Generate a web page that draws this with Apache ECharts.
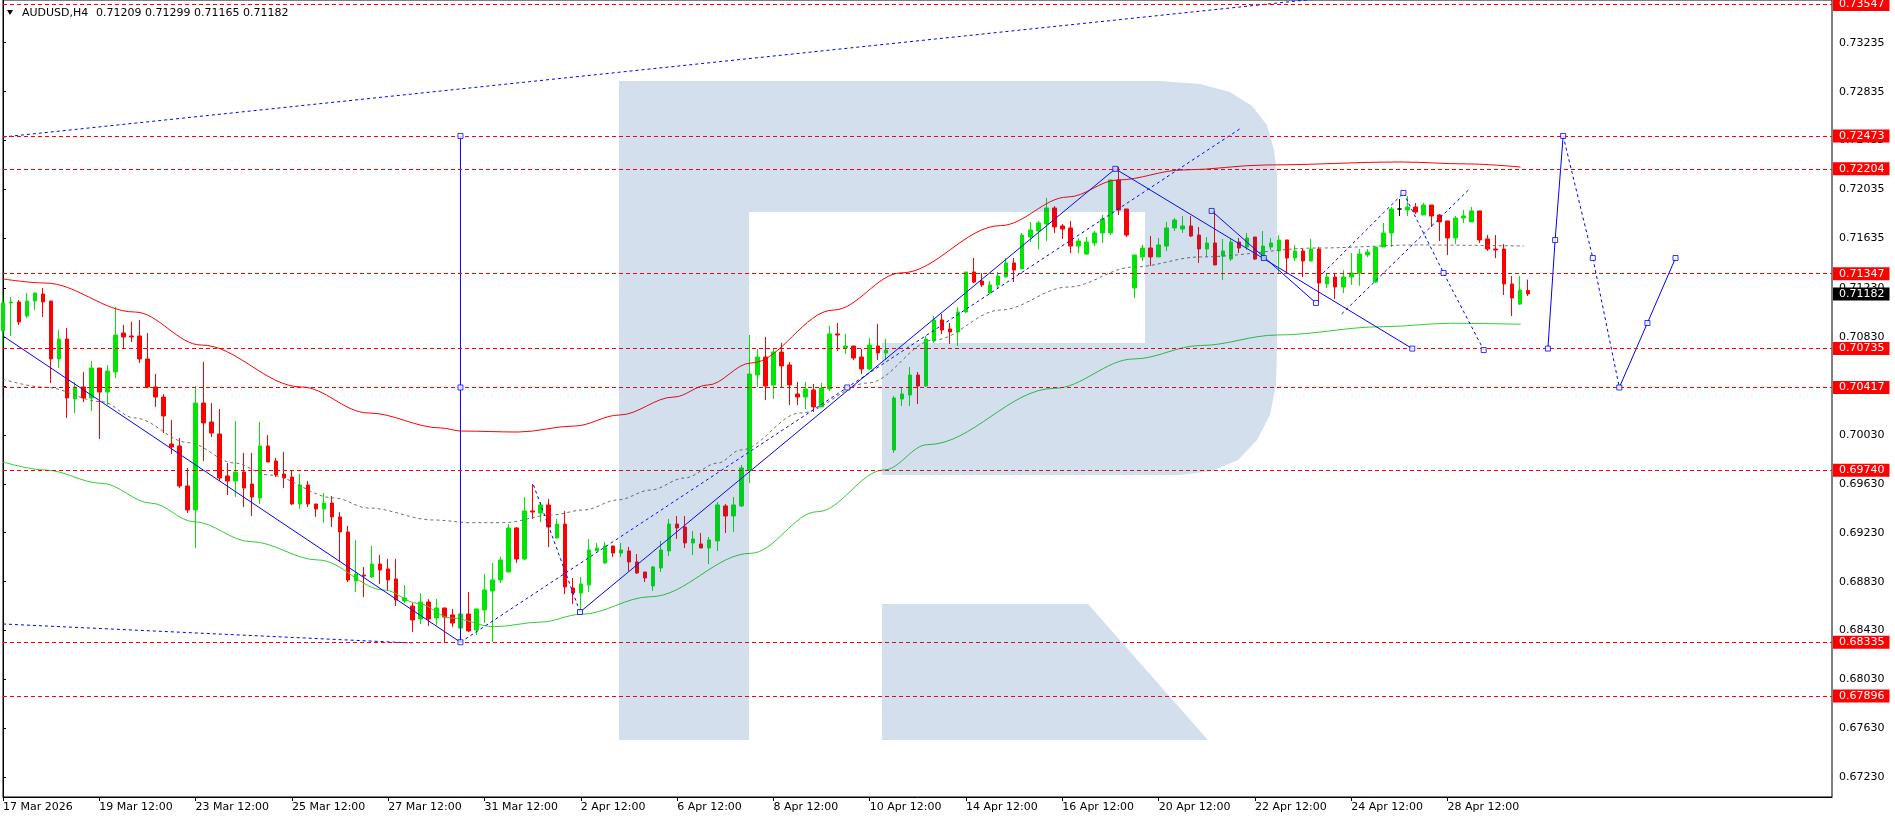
<!DOCTYPE html>
<html><head><meta charset="utf-8">
<script src="https://cdn.jsdelivr.net/npm/echarts@6/dist/echarts.min.js"></script>
<style>html,body{margin:0;padding:0;background:#fff}#c{width:1895px;height:820px}</style>
</head><body><div id="c"></div>
<script>
const symbolName = 'AUDUSD,H4';
const xLabels = ['17 Mar 2026','19 Mar 12:00','23 Mar 12:00','25 Mar 12:00','27 Mar 12:00','31 Mar 12:00','2 Apr 12:00','6 Apr 12:00','8 Apr 12:00','10 Apr 12:00','14 Apr 12:00','16 Apr 12:00','20 Apr 12:00','22 Apr 12:00','24 Apr 12:00','28 Apr 12:00'];
const xLabelStep = 12;
const yTicks = [0.67230,0.67630,0.68030,0.68430,0.68830,0.69230,0.69630,0.70030,0.70430,0.70830,0.71230,0.71635,0.72035,0.72435,0.72835,0.73235];
const levelValues = [0.73547,0.72473,0.72204,0.71347,0.70735,0.70417,0.69740,0.68335,0.67896];

const opens = [
0.70879,0.71108,0.71116,0.71001,0.71124,0.71181,0.71124,0.70650,0.70813,0.70323,
0.70421,0.70331,0.70576,0.70380,0.70544,0.70862,0.70838,0.70838,0.70650,0.70421,
0.70339,0.69955,0.69939,0.69612,0.69416,0.70290,0.70135,0.70037,0.69694,0.69653,
0.69726,0.69628,0.69514,0.69939,0.69816,0.69710,0.69685,0.69465,0.69620,0.69465,
0.69424,0.69473,0.69359,0.69236,0.68836,0.68884,0.68868,0.68974,0.68934,0.68852,
0.68672,0.68631,0.68525,0.68664,0.68533,0.68615,0.68558,0.68451,0.68566,0.68435,
0.68599,0.68754,0.68844,0.68909,0.69269,0.69015,0.69408,0.69391,0.69457,0.69187,
0.69301,0.68778,0.68737,0.68803,0.69081,0.68983,0.69122,0.69064,0.69081,0.68991,
0.68909,0.68795,0.68942,0.69081,0.69301,0.69277,0.69146,0.69138,0.69105,0.69163,
0.69449,0.69367,0.69449,0.69743,0.70519,0.70666,0.70437,0.70707,0.70601,0.70364,
0.70339,0.70397,0.70258,0.70405,0.70855,0.70740,0.70756,0.70666,0.70568,0.70756,
0.70699,0.69906,0.70323,0.70356,0.70519,0.70429,0.70797,0.70969,0.70895,0.70871,
0.71034,0.71361,0.71287,0.71189,0.71255,0.71320,0.71435,0.71386,0.71647,0.71696,
0.71753,0.71884,0.71737,0.71721,0.71573,0.71508,0.71598,0.71680,0.71680,0.72113,
0.71876,0.71230,0.71484,0.71557,0.71484,0.71573,0.71721,0.71712,0.71737,0.71663,
0.71549,0.71598,0.71492,0.71467,0.71606,0.71565,0.71647,0.71459,0.71565,0.71533,
0.71623,0.71475,0.71533,0.71451,0.71549,0.71263,0.71320,0.71238,0.71320,0.71353,
0.71500,0.71279,0.71565,0.71680,0.71876,0.71868,0.71892,0.71827,0.71908,0.71827,
0.71778,0.71639,0.71802,0.71770,0.71860,0.71631,0.71549,0.71549,0.71263,0.71099,
0.71209];
const closes = [
0.71108,0.71116,0.70952,0.71124,0.71189,0.71116,0.70650,0.70813,0.70331,0.70421,
0.70331,0.70576,0.70380,0.70552,0.70846,0.70830,0.70830,0.70650,0.70421,0.70339,
0.70184,0.69931,0.69612,0.69416,0.70290,0.70127,0.70045,0.69677,0.69653,0.69726,
0.69596,0.69522,0.69939,0.69808,0.69702,0.69677,0.69465,0.69620,0.69465,0.69424,
0.69473,0.69359,0.69236,0.68844,0.68893,0.68876,0.68974,0.68925,0.68844,0.68680,
0.68697,0.68517,0.68664,0.68525,0.68615,0.68541,0.68492,0.68566,0.68427,0.68607,
0.68762,0.68844,0.69007,0.69269,0.69015,0.69408,0.69399,0.69457,0.69277,0.69301,
0.68787,0.68737,0.68811,0.69089,0.69105,0.69122,0.69064,0.69089,0.68991,0.68901,
0.68860,0.68950,0.69089,0.69301,0.69269,0.69146,0.69179,0.69105,0.69171,0.69457,
0.69367,0.69457,0.69759,0.70527,0.70666,0.70429,0.70707,0.70593,0.70437,0.70339,
0.70405,0.70258,0.70413,0.70855,0.70846,0.70756,0.70658,0.70568,0.70764,0.70699,
0.70723,0.70331,0.70364,0.70519,0.70429,0.70813,0.70969,0.70887,0.70871,0.71034,
0.71361,0.71279,0.71255,0.71255,0.71328,0.71435,0.71377,0.71663,0.71704,0.71762,
0.71884,0.71729,0.71712,0.71573,0.71614,0.71606,0.71680,0.71794,0.72113,0.71868,
0.71663,0.71500,0.71557,0.71484,0.71582,0.71721,0.71786,0.71737,0.71655,0.71549,
0.71598,0.71418,0.71533,0.71606,0.71557,0.71639,0.71467,0.71573,0.71598,0.71623,
0.71475,0.71533,0.71451,0.71549,0.71271,0.71320,0.71238,0.71320,0.71353,0.71508,
0.71524,0.71565,0.71680,0.71876,0.71876,0.71892,0.71851,0.71908,0.71819,0.71770,
0.71639,0.71802,0.71819,0.71860,0.71623,0.71549,0.71541,0.71263,0.71149,0.71214,
0.71182];
const lows = [
0.70756,0.70838,0.70928,0.70985,0.71050,0.70993,0.70454,0.70577,0.70168,0.70209,
0.70298,0.70225,0.69996,0.70274,0.70495,0.70732,0.70789,0.70617,0.70413,0.70258,
0.70045,0.69873,0.69596,0.69391,0.69105,0.69816,0.70012,0.69653,0.69538,0.69522,
0.69440,0.69367,0.69465,0.69808,0.69685,0.69596,0.69457,0.69424,0.69440,0.69359,
0.69310,0.69277,0.68991,0.68827,0.68746,0.68705,0.68860,0.68811,0.68754,0.68631,
0.68656,0.68419,0.68484,0.68468,0.68476,0.68329,0.68460,0.68337,0.68419,0.68394,
0.68492,0.68337,0.68819,0.68909,0.68983,0.69007,0.69342,0.69318,0.69113,0.69187,
0.68729,0.68648,0.68582,0.68746,0.69081,0.68975,0.69032,0.69032,0.68917,0.68893,
0.68827,0.68754,0.68909,0.69040,0.69179,0.69105,0.69048,0.69105,0.68974,0.69081,
0.69228,0.69236,0.69440,0.69637,0.70421,0.70315,0.70323,0.70421,0.70274,0.70274,
0.70241,0.70217,0.70258,0.70389,0.70716,0.70691,0.70642,0.70527,0.70560,0.70642,
0.70642,0.69882,0.70266,0.70266,0.70282,0.70421,0.70781,0.70854,0.70773,0.70756,
0.71026,0.71271,0.71238,0.71181,0.71222,0.71320,0.71279,0.71386,0.71606,0.71549,
0.71614,0.71680,0.71631,0.71516,0.71516,0.71500,0.71573,0.71598,0.71663,0.71827,
0.71647,0.71149,0.71451,0.71410,0.71484,0.71533,0.71696,0.71680,0.71647,0.71435,
0.71484,0.71418,0.71296,0.71451,0.71516,0.71541,0.71459,0.71451,0.71541,0.71353,
0.71353,0.71451,0.71320,0.71451,0.71116,0.71230,0.71140,0.71189,0.71255,0.71247,
0.71484,0.71271,0.71565,0.71565,0.71819,0.71819,0.71835,0.71827,0.71729,0.71614,
0.71500,0.71590,0.71762,0.71770,0.71598,0.71533,0.71475,0.71173,0.71001,0.71091,
0.71165];
const highs = [
0.71189,0.71157,0.71132,0.71189,0.71192,0.71230,0.71124,0.70887,0.70903,0.70462,
0.70544,0.70634,0.70576,0.70601,0.71075,0.70928,0.70952,0.70969,0.70862,0.70527,
0.70364,0.70151,0.70004,0.69759,0.70429,0.70625,0.70290,0.70241,0.69800,0.70143,
0.69882,0.69882,0.70135,0.70029,0.69841,0.69890,0.69743,0.69710,0.69653,0.69465,
0.69555,0.69530,0.69399,0.69285,0.69171,0.68950,0.69122,0.69048,0.69016,0.69016,
0.68803,0.68656,0.68737,0.68688,0.68688,0.68615,0.68607,0.68566,0.68746,0.68607,
0.68893,0.68983,0.69032,0.69301,0.69277,0.69522,0.69628,0.69481,0.69506,0.69342,
0.69408,0.68860,0.68868,0.69179,0.69146,0.69155,0.69122,0.69146,0.69114,0.69056,
0.68909,0.68958,0.69163,0.69342,0.69367,0.69367,0.69244,0.69228,0.69195,0.69481,
0.69465,0.69522,0.69784,0.70846,0.70732,0.70830,0.70732,0.70781,0.70625,0.70462,
0.70462,0.70446,0.70454,0.70920,0.70944,0.70855,0.70756,0.70732,0.70822,0.70936,
0.70813,0.70348,0.70421,0.70584,0.70544,0.70838,0.71001,0.71018,0.70944,0.71075,
0.71361,0.71475,0.71353,0.71287,0.71361,0.71475,0.71475,0.71680,0.71770,0.71778,
0.71966,0.71900,0.71753,0.71778,0.71639,0.71647,0.71696,0.71827,0.72113,0.72219,
0.71876,0.71500,0.71582,0.71655,0.71639,0.71770,0.71802,0.71819,0.71819,0.71729,
0.71647,0.71860,0.71631,0.71631,0.71639,0.71680,0.71647,0.71696,0.71639,0.71663,
0.71623,0.71582,0.71557,0.71631,0.71565,0.71353,0.71353,0.71377,0.71516,0.71549,
0.71549,0.71565,0.71762,0.71892,0.71958,0.71982,0.71925,0.71925,0.71908,0.71835,
0.71778,0.71819,0.71868,0.71892,0.71860,0.71663,0.71663,0.71590,0.71328,0.71328,
0.71299];

// envelope lines (bar index, price) read at points along each curve
const upperX = [0,5.2,16.4,24.7,37.2,45.5,54.6,57.1,64.2,71.2,76.8,83.6,87.8,93.2,103.5,111.9,124.3,132.7,138.9,147.1,157.6,174.2,182.5,189.1];
const upperY = [0.71304,0.71271,0.71034,0.70764,0.70421,0.70209,0.70086,0.70061,0.70053,0.70102,0.70192,0.70339,0.70437,0.70617,0.71050,0.71353,0.71740,0.71974,0.72113,0.72195,0.72236,0.72260,0.72244,0.72219];
const middleX = [0,5.2,12.3,16.4,23.1,28.8,33.1,41.3,45.5,53.7,58.3,62.4,68.3,72.4,76.6,80.7,84.9,89.1,91.9,99.4,107.8,116,124.3,132.7,140.9,149.2,163.8,176.3,189.5];
const middleY = [0.70484,0.70419,0.70301,0.70168,0.69966,0.69800,0.69702,0.69514,0.69432,0.69334,0.69312,0.69312,0.69375,0.69416,0.69498,0.69579,0.69677,0.69800,0.69906,0.70209,0.70454,0.70805,0.71050,0.71238,0.71402,0.71484,0.71557,0.71582,0.71573];
const lowerX = [0,5.2,12.3,18.5,23.8,30.9,39.3,47.5,51.7,55.8,61.2,67.1,72.0,80.7,93.2,101.5,109.8,115.2,131,140.9,149.2,158.8,172,180.4,189.1];
const lowerY = [0.69808,0.69743,0.69634,0.69471,0.69320,0.69157,0.69007,0.68762,0.68653,0.68533,0.68462,0.68500,0.68563,0.68707,0.69062,0.69402,0.69743,0.69950,0.70410,0.70650,0.70760,0.70846,0.70914,0.70942,0.70934];

// drawn objects: [bar index, price]
const solidLines = [
  [[0,0.70838],[57,0.68335]],
  [[57,0.72473],[57,0.68335]],
  [[71.9,0.68582],[138.6,0.72204]],
  [[138.6,0.72204],[175.6,0.70735]],
  [[150.6,0.71860],[163.6,0.71108]],
  [[192.5,0.70735],[193.4,0.71622],[194.4,0.72473]],
  [[201.4,0.70417],[204.9,0.70944],[208.4,0.71475]]
];
const dottedLines = [
  [[0,0.72464],[175,0.73671]],
  [[0,0.68484],[50.9,0.68329]],
  [[57,0.68335],[154.1,0.72530]],
  [[66.1,0.69620],[71.9,0.68582]],
  [[164.5,0.71353],[174.5,0.72007]],
  [[166.8,0.71018],[182.6,0.72031]],
  [[174.5,0.72007],[179.5,0.71353],[184.5,0.70723]],
  [[194.4,0.72473],[198.1,0.71475],[201.4,0.70417]]
];
const anchorPoints = [[57,0.72473],[57,0.70417],[57,0.68335],[71.9,0.68582],[105.2,0.70417],[138.6,0.72204],[157.1,0.71475],[175.6,0.70735],[150.6,0.71860],[163.6,0.71108],[174.5,0.72007],[179.5,0.71353],[184.5,0.70723],[192.5,0.70735],[193.4,0.71622],[194.4,0.72473],[198.1,0.71475],[201.4,0.70417],[204.9,0.70944],[208.4,0.71475]];

const FONT = 'DejaVu Sans';
const n = opens.length;
const candleData = opens.map((o, i) => [i, o, closes[i], lows[i], highs[i]]);
const zip = (xs, ys) => xs.map((x, i) => [x, ys[i]]);
const last = n - 1;
const headerText = [opens[last], highs[last], lows[last], closes[last]].map(v => v.toFixed(5)).join(' ');
const currentPrice = closes[last];

const chart = echarts.init(document.getElementById('c'), null, {renderer: 'canvas'});

const series = [{
  type: 'candlestick',
  data: candleData,
  encode: {x: 0, y: [1, 2, 3, 4]},
  barWidth: 4,
  z: 2,
  silent: true,
  itemStyle: {color: '#00e600', color0: '#ff0000', borderColor: '#00e600', borderColor0: '#ff0000', borderColorDoji: '#000000', borderWidth: 1},
  markLine: {
    silent: true, animation: false, symbol: ['none', 'none'], precision: 5,
    lineStyle: {color: '#ff0000', type: [4, 3], width: 1},
    label: {position: 'end', distance: 1, formatter: p => Number(p.value).toFixed(5), color: '#ffffff', backgroundColor: '#ff0000', padding: [1, 5, 0, 6], fontFamily: FONT, fontSize: 11, lineHeight: 12},
    data: levelValues.map(v => ({yAxis: v})).concat([{yAxis: currentPrice, lineStyle: {color: 'rgba(0,0,0,0)', width: 1}, label: {color: '#ffffff', backgroundColor: '#000000'}}])
  }
}, {
  type: 'line', data: zip(upperX, upperY), smooth: 0.35, smoothMonotone: 'x', symbol: 'none', z: 3, silent: true,
  lineStyle: {color: '#ff0000', width: 1}
}, {
  type: 'line', data: zip(middleX, middleY), smooth: 0.35, smoothMonotone: 'x', symbol: 'none', z: 3, silent: true,
  lineStyle: {color: '#6e6e6e', width: 1, type: [3, 3]}
}, {
  type: 'line', data: zip(lowerX, lowerY), smooth: 0.35, smoothMonotone: 'x', symbol: 'none', z: 3, silent: true,
  lineStyle: {color: '#32cd32', width: 1}
}];
solidLines.forEach(d => series.push({type: 'line', data: d, symbol: 'none', z: 4, silent: true, lineStyle: {color: '#0000ff', width: 1}}));
dottedLines.forEach(d => series.push({type: 'line', data: d, symbol: 'none', z: 4, silent: true, lineStyle: {color: '#0000ff', width: 1, type: [3, 3]}}));
series.push({type: 'scatter', data: anchorPoints, symbol: 'rect', symbolSize: 5, z: 5, silent: true,
  itemStyle: {color: '#ffffff', borderColor: '#0000ff', borderWidth: 1}});

const wmFill = 'rgba(28,85,165,0.19)';
chart.setOption({
  animation: false,
  backgroundColor: '#ffffff',
  grid: {left: 2, right: 63, top: 0, bottom: 23, show: true, borderColor: '#000', borderWidth: 1, backgroundColor: 'transparent'},
  xAxis: {
    type: 'value', min: 0, max: 227.9,
    axisLine: {show: true, lineStyle: {color: '#000'}},
    axisTick: {show: true, length: 4, lineStyle: {color: '#000'}, customValues: xLabels.map((_, i) => i * xLabelStep)},
    axisLabel: {customValues: xLabels.map((_, i) => i * xLabelStep), formatter: v => xLabels[Math.round(v / xLabelStep)] || '', align: 'left', margin: 5, color: '#000', fontFamily: FONT, fontSize: 11},
    splitLine: {show: false}
  },
  yAxis: {
    type: 'value', position: 'right', min: 0.67070, max: 0.73584,
    axisLine: {show: true, lineStyle: {color: '#000'}},
    axisTick: {show: true, length: 3, lineStyle: {color: '#000'}, customValues: yTicks},
    axisLabel: {customValues: yTicks, formatter: v => v.toFixed(5), margin: 7, color: '#000', fontFamily: FONT, fontSize: 11},
    splitLine: {show: false}
  },
  graphic: [
    {type: 'polygon', silent: true, z: 100, shape: {points: [[619,740],[619,81],[1160,81],[1200,84],[1230,92],[1252,106],[1267,125],[1274,150],[1277,175],[1277,200],[1277,350],[1276,385],[1270,415],[1257,440],[1238,460],[1212,471],[1180,475],[882,475],[882,343],[1145,343],[1145,212],[749,212],[749,740]]}, style: {fill: wmFill}},
    {type: 'polygon', silent: true, z: 100, shape: {points: [[882,604],[1088,604],[1208,740],[882,740]]}, style: {fill: wmFill}},
    {type: 'polygon', silent: true, z: 101, shape: {points: [[7,10],[13,10],[10,15]]}, style: {fill: '#000'}},
    {type: 'text', silent: true, z: 101, x: 22, y: 13, style: {text: symbolName, fill: '#000', font: '11px "DejaVu Sans"', verticalAlign: 'middle'}},
    {type: 'text', silent: true, z: 101, x: 96, y: 13, style: {text: headerText, fill: '#000', font: '11px "DejaVu Sans"', verticalAlign: 'middle'}}
  ],
  series
});
</script>
</body></html>
